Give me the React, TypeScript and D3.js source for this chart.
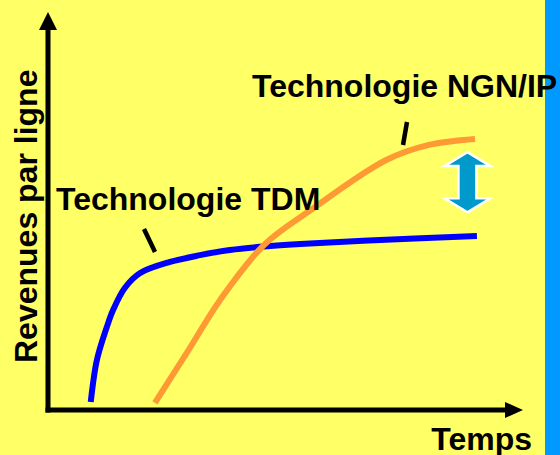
import React from "react";
import * as d3 from "d3";

// Revenue per line over time (schematic, arbitrary units 0-100)
const tdmTime = [9.0, 10.3, 12.4, 13.7, 16.2, 19.4, 25.7, 32.0, 38.3, 44.6, 53.1, 69.9, 90.3];
const tdmRevenue = [2.0, 12.6, 20.9, 25.1, 30.7, 34.4, 37.2, 38.9, 40.2, 41.0, 41.7, 42.7, 43.7];

const ngnTime = [22.5, 29.4, 36.2, 45.5, 55.4, 71.2, 80.2, 89.9];
const ngnRevenue = [1.8, 14.7, 27.6, 41.5, 50.3, 62.8, 66.6, 68.1];

const gapAt = 88.3;
const gapRange = [49.7, 64.8];

const labels = {
  ngn: "Technologie NGN/IP",
  tdm: "Technologie TDM",
  x: "Temps",
  y: "Revenues par ligne",
};

const W = 560;
const H = 455;
const font = "'Liberation Sans', Arial, sans-serif";

const App: React.FC = () => {
  const x = d3.scaleLinear().domain([0, 100]).range([48, 523]);
  const y = d3.scaleLinear().domain([0, 100]).range([410, 12]);

  const line = d3
    .line<[number, number]>()
    .x((d) => x(d[0]))
    .y((d) => y(d[1]))
    .curve(d3.curveCatmullRom.alpha(0.5));

  const tdm = tdmTime.map((t, i) => [t, tdmRevenue[i]] as [number, number]);
  const ngn = ngnTime.map((t, i) => [t, ngnRevenue[i]] as [number, number]);

  const x0 = x(0);
  const y0 = y(0);
  const xEnd = x.range()[1];
  const yEnd = y.range()[1];

  // double arrow between the two curves
  const ax = x(gapAt);
  const aTop = y(gapRange[1]);
  const aBot = y(gapRange[0]);
  const head = 14;
  const hw = 23;
  const sw = 9;
  const arrow = [
    [ax, aTop],
    [ax + hw, aTop + head],
    [ax + sw, aTop + head],
    [ax + sw, aBot - head],
    [ax + hw, aBot - head],
    [ax, aBot],
    [ax - hw, aBot - head],
    [ax - sw, aBot - head],
    [ax - sw, aTop + head],
    [ax - hw, aTop + head],
  ];

  return (
    <svg
      width={W}
      height={H}
      style={{ position: "absolute", left: 0, top: 0 }}
    >
      <rect width={W} height={H} fill="#FFFF66" />
      <rect x={545} width={W - 545} height={H} fill="#0099FF" />

      {/* axes */}
      <line x1={x0} y1={y0 + 2.5} x2={x0} y2={yEnd + 16} stroke="#000" strokeWidth={5} />
      <path d={`M${x0},${yEnd} L${x0 + 9},${yEnd + 18} L${x0 - 9},${yEnd + 18} Z`} fill="#000" />
      <line x1={x0 - 2.5} y1={y0} x2={xEnd - 16} y2={y0} stroke="#000" strokeWidth={5} />
      <path d={`M${xEnd},${y0} L${xEnd - 18},${y0 - 8} L${xEnd - 18},${y0 + 8} Z`} fill="#000" />

      {/* curves */}
      <path d={line(tdm) ?? ""} fill="none" stroke="#0000FF" strokeWidth={6} />
      <path d={line(ngn) ?? ""} fill="none" stroke="#FF9933" strokeWidth={6} />

      <path
        d={"M" + arrow.map((p) => p.join(",")).join("L") + "Z"}
        fill="#0099CC"
        stroke="#fff"
        strokeWidth={2.5}
        strokeLinejoin="miter"
      />

      {/* label ticks */}
      <line x1={144} y1={229} x2={155} y2={252} stroke="#000" strokeWidth={4.5} />
      <line x1={407} y1={122} x2={403} y2={145} stroke="#000" strokeWidth={4.5} />

      <g fontFamily={font} fontWeight="bold" fontSize={32} fill="#000">
        <text x={252} y={97}>{labels.ngn}</text>
        <text x={56} y={210}>{labels.tdm}</text>
        <text x={532} y={450} textAnchor="end">{labels.x}</text>
        <text transform="translate(37,363) rotate(-90)">{labels.y}</text>
      </g>
    </svg>
  );
};

export default App;
